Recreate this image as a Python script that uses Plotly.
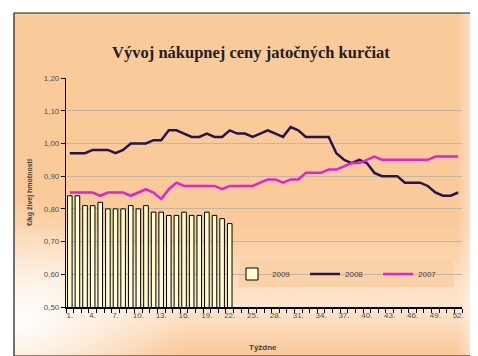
import base64
import plotly.graph_objects as go

weeks = list(range(1, 53))
tick_weeks = list(range(1, 53, 3))
tick_labels = [f"{w}." for w in tick_weeks]

y2009 = [0.84, 0.84, 0.81, 0.81, 0.82, 0.80, 0.80, 0.80, 0.81, 0.80, 0.81,
         0.79, 0.79, 0.78, 0.78, 0.79, 0.78, 0.78, 0.79, 0.78, 0.77, 0.755]
y2008 = [0.97, 0.97, 0.97, 0.98, 0.98, 0.98, 0.97, 0.98, 1.00, 1.00, 1.00,
         1.01, 1.01, 1.04, 1.04, 1.03, 1.02, 1.02, 1.03, 1.02, 1.02, 1.04,
         1.03, 1.03, 1.02, 1.03, 1.04, 1.03, 1.02, 1.05, 1.04, 1.02, 1.02,
         1.02, 1.02, 0.97, 0.95, 0.94, 0.95, 0.94, 0.91, 0.90, 0.90, 0.90,
         0.88, 0.88, 0.88, 0.87, 0.85, 0.84, 0.84, 0.85]
y2007 = [0.85, 0.85, 0.85, 0.85, 0.84, 0.85, 0.85, 0.85, 0.84, 0.85, 0.86,
         0.85, 0.83, 0.86, 0.88, 0.87, 0.87, 0.87, 0.87, 0.87, 0.86, 0.87,
         0.87, 0.87, 0.87, 0.88, 0.89, 0.89, 0.88, 0.89, 0.89, 0.91, 0.91,
         0.91, 0.92, 0.92, 0.93, 0.94, 0.94, 0.95, 0.96, 0.95, 0.95, 0.95,
         0.95, 0.95, 0.95, 0.95, 0.96, 0.96, 0.96, 0.96]

W, H = 478, 356
L, R, T, B = 58, 24, 70, 57
pw, ph = W - L - R, H - T - B

def px_to_paper_x(px):
    return (px - L) / pw

def px_to_paper_y(py):
    return 1 - (py - T) / ph

svg = f'''<svg xmlns="http://www.w3.org/2000/svg" width="468" height="343" viewBox="0 0 468 343" preserveAspectRatio="none">
<defs>
<linearGradient id="v" x1="0" y1="0" x2="0" y2="1">
<stop offset="0" stop-color="#FACA9B"/>
<stop offset="0.62" stop-color="#FACA9B"/>
<stop offset="0.86" stop-color="#FDE6CF"/>
<stop offset="1" stop-color="#FAC89A"/>
</linearGradient>
<radialGradient id="r" cx="0.02" cy="0.9" r="0.35">
<stop offset="0" stop-color="#FFFFFF" stop-opacity="0.95"/>
<stop offset="1" stop-color="#FFFFFF" stop-opacity="0"/>
</radialGradient>
<linearGradient id="h" x1="0" y1="0" x2="1" y2="0">
<stop offset="0.95" stop-color="#FFFFFF" stop-opacity="0"/>
<stop offset="0.985" stop-color="#FFFFFF" stop-opacity="0.5"/>
<stop offset="1" stop-color="#FFFFFF" stop-opacity="0.1"/>
</linearGradient>
</defs>
<rect width="468" height="343" fill="url(#v)"/>
<rect width="468" height="343" fill="url(#r)"/>
<rect width="468" height="343" fill="url(#h)"/>
</svg>'''
src = "data:image/svg+xml;base64," + base64.b64encode(svg.encode()).decode()

fig = go.Figure()
fig.add_trace(go.Bar(x=weeks[:len(y2009)], y=y2009, name="2009", width=0.6,
                     marker=dict(color="#FFFFD2", line=dict(color="#000000", width=1))))
fig.add_trace(go.Scatter(x=weeks, y=y2008, name="2008", mode="lines",
                         line=dict(color="#22164F", width=2.5)))
fig.add_trace(go.Scatter(x=weeks, y=y2007, name="2007", mode="lines",
                         line=dict(color="#E024D2", width=2.5)))

fx0, fx1 = px_to_paper_x(6), px_to_paper_x(473)
fy0, fy1 = px_to_paper_y(348), px_to_paper_y(5)

fig.add_layout_image(dict(source=src, xref="paper", yref="paper", x=fx0, y=fy1,
                          sizex=fx1 - fx0, sizey=fy1 - fy0, sizing="stretch",
                          xanchor="left", yanchor="top", layer="below"))
fig.add_shape(type="rect", xref="paper", yref="paper", x0=fx0, x1=fx1, y0=fy0, y1=fy1,
              line=dict(color="#1a1a1a", width=1.2), layer="below")
# legend background box
fig.add_shape(type="rect", xref="paper", yref="paper",
              x0=px_to_paper_x(231), x1=px_to_paper_x(446),
              y0=px_to_paper_y(279), y1=px_to_paper_y(253),
              line=dict(width=0), fillcolor="#FBD2A8", layer="between")

fig.update_layout(
    width=W, height=H,
    margin=dict(l=L, r=R, t=T, b=B),
    paper_bgcolor="#FFFFFF",
    plot_bgcolor="rgba(0,0,0,0)",
    separators=",.",
    showlegend=True,
    font=dict(family="Liberation Sans, Arial, sans-serif", size=8, color="#505050"),
    legend=dict(orientation="h", x=px_to_paper_x(224), y=px_to_paper_y(266),
                xanchor="left", yanchor="middle", bgcolor="rgba(0,0,0,0)",
                font=dict(size=8, color="#404040"),
                entrywidth=28, entrywidthmode="pixels", traceorder="normal",
                itemwidth=30),
    title=dict(text="<b>Vývoj nákupnej ceny jatočných kurčiat</b>",
               font=dict(family="Liberation Serif, Times New Roman, serif", size=16.5, color="#202020"),
               x=px_to_paper_x(243), xref="paper", xanchor="center",
               y=1 - 44 / H, yanchor="middle"),
    xaxis=dict(range=[0.5, 52.5], tickmode="array", tickvals=tick_weeks, ticktext=tick_labels,
               ticks="", showgrid=False, zeroline=False, showline=True,
               linecolor="#000000", linewidth=1.5, tickfont=dict(size=8, color="#505050"),
               minor=dict(tickmode="linear", tick0=0.5, dtick=1, ticks="outside",
                          ticklen=4, tickcolor="#000000", tickwidth=1, showgrid=False)),
    yaxis=dict(range=[0.5, 1.2], dtick=0.1, tickformat=".2f", showgrid=True,
               gridcolor="#C4B5A5", gridwidth=1, zeroline=False, showline=True,
               linecolor="#000000", linewidth=1.2, ticks="outside", ticklen=4,
               tickcolor="#000000", tickfont=dict(size=8, color="#505050")),
    annotations=[
        dict(text="<b>€/kg živej hmotnosti</b>", xref="paper", yref="paper",
             x=px_to_paper_x(22), y=px_to_paper_y(185), textangle=-90,
             showarrow=False, font=dict(size=7, color="#404040"),
             xanchor="center", yanchor="middle"),
        dict(text="<b>Týždne</b>", xref="paper", yref="paper",
             x=px_to_paper_x(255), y=px_to_paper_y(339), showarrow=False,
             font=dict(size=8, color="#404040"), xanchor="center", yanchor="middle"),
    ],
)

fig.write_html("out.html")
